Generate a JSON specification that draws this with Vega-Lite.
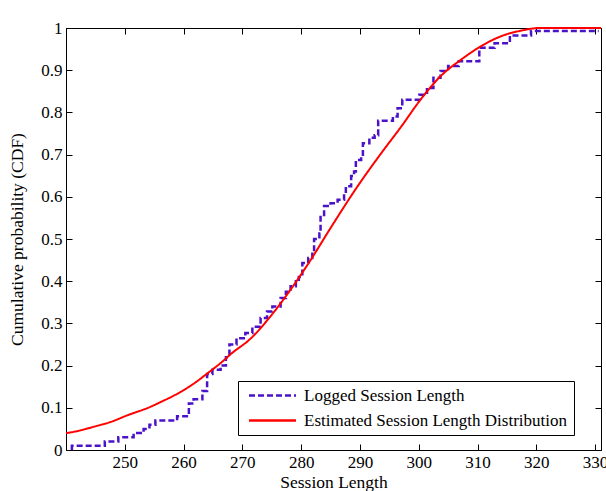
{
  "$schema": "https://vega.github.io/schema/vega-lite/v6.json",
  "width": 535,
  "height": 422,
  "autosize": "none",
  "padding": {"left": 66, "top": 28, "right": 5, "bottom": 41},
  "background": "white",
  "config": {
    "view": {"stroke": "black", "strokeWidth": 1},
    "axis": {
      "domainColor": "black",
      "tickColor": "black",
      "labelColor": "black",
      "titleColor": "black",
      "labelFont": "Liberation Serif",
      "titleFont": "Liberation Serif",
      "labelFontSize": 17,
      "titleFontSize": 17.5,
      "titleFontWeight": "normal",
      "grid": false,
      "tickSize": -6,
      "tickWidth": 1,
      "domainWidth": 1
    },
    "legend": {
      "orient": "none",
      "legendX": 172,
      "legendY": 353,
      "strokeColor": "black",
      "fillColor": "white",
      "padding": 6,
      "labelFont": "Liberation Serif",
      "labelFontSize": 17,
      "labelColor": "black",
      "labelLimit": 400,
      "symbolType": "M-4,0H4",
      "symbolSize": 138,
      "symbolStrokeWidth": 2.5,
      "symbolFillColor": "transparent",
      "symbolOffset": 20,
      "labelOffset": 23,
      "rowPadding": 7,
      "cornerRadius": 0
    }
  },
  "datasets": {
    "logged": [
      {"length": 241.0, "cdf": 0.0, "series": "Logged Session Length"},
      {"length": 241.0, "cdf": 0.01, "series": "Logged Session Length"},
      {"length": 246.6, "cdf": 0.02, "series": "Logged Session Length"},
      {"length": 248.9, "cdf": 0.03, "series": "Logged Session Length"},
      {"length": 251.5, "cdf": 0.04, "series": "Logged Session Length"},
      {"length": 253.2, "cdf": 0.05, "series": "Logged Session Length"},
      {"length": 254.2, "cdf": 0.06, "series": "Logged Session Length"},
      {"length": 255.2, "cdf": 0.07, "series": "Logged Session Length"},
      {"length": 258.9, "cdf": 0.08, "series": "Logged Session Length"},
      {"length": 260.9, "cdf": 0.11, "series": "Logged Session Length"},
      {"length": 261.7, "cdf": 0.12, "series": "Logged Session Length"},
      {"length": 263.2, "cdf": 0.14, "series": "Logged Session Length"},
      {"length": 264.0, "cdf": 0.18, "series": "Logged Session Length"},
      {"length": 264.9, "cdf": 0.19, "series": "Logged Session Length"},
      {"length": 266.3, "cdf": 0.2, "series": "Logged Session Length"},
      {"length": 267.2, "cdf": 0.22, "series": "Logged Session Length"},
      {"length": 267.8, "cdf": 0.25, "series": "Logged Session Length"},
      {"length": 269.0, "cdf": 0.265, "series": "Logged Session Length"},
      {"length": 270.5, "cdf": 0.277, "series": "Logged Session Length"},
      {"length": 271.7, "cdf": 0.292, "series": "Logged Session Length"},
      {"length": 273.1, "cdf": 0.313, "series": "Logged Session Length"},
      {"length": 274.2, "cdf": 0.328, "series": "Logged Session Length"},
      {"length": 275.1, "cdf": 0.34, "series": "Logged Session Length"},
      {"length": 276.5, "cdf": 0.36, "series": "Logged Session Length"},
      {"length": 277.4, "cdf": 0.375, "series": "Logged Session Length"},
      {"length": 278.2, "cdf": 0.388, "series": "Logged Session Length"},
      {"length": 279.1, "cdf": 0.4, "series": "Logged Session Length"},
      {"length": 279.6, "cdf": 0.41, "series": "Logged Session Length"},
      {"length": 280.2, "cdf": 0.443, "series": "Logged Session Length"},
      {"length": 281.2, "cdf": 0.455, "series": "Logged Session Length"},
      {"length": 281.9, "cdf": 0.47, "series": "Logged Session Length"},
      {"length": 282.2, "cdf": 0.5, "series": "Logged Session Length"},
      {"length": 283.1, "cdf": 0.513, "series": "Logged Session Length"},
      {"length": 283.3, "cdf": 0.557, "series": "Logged Session Length"},
      {"length": 283.9, "cdf": 0.578, "series": "Logged Session Length"},
      {"length": 285.0, "cdf": 0.585, "series": "Logged Session Length"},
      {"length": 286.2, "cdf": 0.593, "series": "Logged Session Length"},
      {"length": 287.3, "cdf": 0.608, "series": "Logged Session Length"},
      {"length": 287.6, "cdf": 0.625, "series": "Logged Session Length"},
      {"length": 288.5, "cdf": 0.649, "series": "Logged Session Length"},
      {"length": 289.0, "cdf": 0.66, "series": "Logged Session Length"},
      {"length": 289.3, "cdf": 0.687, "series": "Logged Session Length"},
      {"length": 290.2, "cdf": 0.695, "series": "Logged Session Length"},
      {"length": 290.5, "cdf": 0.727, "series": "Logged Session Length"},
      {"length": 291.6, "cdf": 0.74, "series": "Logged Session Length"},
      {"length": 292.5, "cdf": 0.746, "series": "Logged Session Length"},
      {"length": 293.1, "cdf": 0.78, "series": "Logged Session Length"},
      {"length": 295.6, "cdf": 0.79, "series": "Logged Session Length"},
      {"length": 296.4, "cdf": 0.81, "series": "Logged Session Length"},
      {"length": 297.2, "cdf": 0.83, "series": "Logged Session Length"},
      {"length": 300.1, "cdf": 0.842, "series": "Logged Session Length"},
      {"length": 301.4, "cdf": 0.858, "series": "Logged Session Length"},
      {"length": 302.5, "cdf": 0.882, "series": "Logged Session Length"},
      {"length": 303.7, "cdf": 0.898, "series": "Logged Session Length"},
      {"length": 305.0, "cdf": 0.91, "series": "Logged Session Length"},
      {"length": 306.8, "cdf": 0.921, "series": "Logged Session Length"},
      {"length": 310.3, "cdf": 0.953, "series": "Logged Session Length"},
      {"length": 312.9, "cdf": 0.964, "series": "Logged Session Length"},
      {"length": 315.5, "cdf": 0.982, "series": "Logged Session Length"},
      {"length": 319.1, "cdf": 0.993, "series": "Logged Session Length"},
      {"length": 330.6, "cdf": 0.993, "series": "Logged Session Length"}
    ],
    "estimated": [
      {"length": 240.0, "cdf": 0.04, "series": "Estimated Session Length Distribution"},
      {"length": 242.0, "cdf": 0.045, "series": "Estimated Session Length Distribution"},
      {"length": 244.7, "cdf": 0.055, "series": "Estimated Session Length Distribution"},
      {"length": 247.5, "cdf": 0.066, "series": "Estimated Session Length Distribution"},
      {"length": 250.4, "cdf": 0.082, "series": "Estimated Session Length Distribution"},
      {"length": 254.3, "cdf": 0.102, "series": "Estimated Session Length Distribution"},
      {"length": 256.0, "cdf": 0.113, "series": "Estimated Session Length Distribution"},
      {"length": 258.9, "cdf": 0.133, "series": "Estimated Session Length Distribution"},
      {"length": 261.7, "cdf": 0.157, "series": "Estimated Session Length Distribution"},
      {"length": 264.0, "cdf": 0.181, "series": "Estimated Session Length Distribution"},
      {"length": 266.8, "cdf": 0.212, "series": "Estimated Session Length Distribution"},
      {"length": 268.0, "cdf": 0.227, "series": "Estimated Session Length Distribution"},
      {"length": 271.4, "cdf": 0.264, "series": "Estimated Session Length Distribution"},
      {"length": 274.8, "cdf": 0.317, "series": "Estimated Session Length Distribution"},
      {"length": 278.2, "cdf": 0.38, "series": "Estimated Session Length Distribution"},
      {"length": 281.6, "cdf": 0.45, "series": "Estimated Session Length Distribution"},
      {"length": 285.0, "cdf": 0.526, "series": "Estimated Session Length Distribution"},
      {"length": 289.6, "cdf": 0.625, "series": "Estimated Session Length Distribution"},
      {"length": 293.6, "cdf": 0.703, "series": "Estimated Session Length Distribution"},
      {"length": 297.0, "cdf": 0.766, "series": "Estimated Session Length Distribution"},
      {"length": 300.4, "cdf": 0.832, "series": "Estimated Session Length Distribution"},
      {"length": 303.8, "cdf": 0.887, "series": "Estimated Session Length Distribution"},
      {"length": 307.2, "cdf": 0.925, "series": "Estimated Session Length Distribution"},
      {"length": 310.6, "cdf": 0.957, "series": "Estimated Session Length Distribution"},
      {"length": 314.1, "cdf": 0.981, "series": "Estimated Session Length Distribution"},
      {"length": 317.5, "cdf": 0.994, "series": "Estimated Session Length Distribution"},
      {"length": 320.5, "cdf": 1.0, "series": "Estimated Session Length Distribution"},
      {"length": 331.0, "cdf": 1.0, "series": "Estimated Session Length Distribution"}
    ]
  },
  "layer": [
    {
      "data": {"name": "logged"},
      "mark": {"type": "line", "interpolate": "step-after", "strokeWidth": 2.5},
      "encoding": {
        "x": {
          "field": "length", "type": "quantitative",
          "scale": {"domain": [240, 331], "nice": false, "zero": false},
          "axis": {"orient": "bottom", "values": [250, 260, 270, 280, 290, 300, 310, 320, 330], "title": "Session Length", "labelPadding": 10, "titlePadding": 3}
        },
        "y": {
          "field": "cdf", "type": "quantitative",
          "scale": {"domain": [0, 1], "nice": false},
          "axis": {"orient": "left", "values": [0, 0.1, 0.2, 0.3, 0.4, 0.5, 0.6, 0.7, 0.8, 0.9, 1], "format": "~g", "title": "Cumulative probability (CDF)", "labelPadding": 10, "titlePadding": 14}
        },
        "color": {
          "field": "series", "type": "nominal", "title": null,
          "scale": {"domain": ["Logged Session Length", "Estimated Session Length Distribution"], "range": ["#4a12c9", "#ff0000"]}
        },
        "strokeDash": {
          "field": "series", "type": "nominal", "title": null,
          "scale": {"domain": ["Logged Session Length", "Estimated Session Length Distribution"], "range": [[6, 3], [1, 0]]}
        }
      }
    },
    {
      "data": {"name": "estimated"},
      "mark": {"type": "line", "strokeWidth": 2, "interpolate": "monotone"},
      "encoding": {
        "x": {
          "field": "length", "type": "quantitative",
          "axis": {"orient": "top", "values": [250, 260, 270, 280, 290, 300, 310, 320, 330], "labels": false, "title": null}
        },
        "y": {
          "field": "cdf", "type": "quantitative",
          "axis": {"orient": "right", "values": [0, 0.1, 0.2, 0.3, 0.4, 0.5, 0.6, 0.7, 0.8, 0.9, 1], "labels": false, "title": null}
        },
        "color": {"field": "series", "type": "nominal", "title": null},
        "strokeDash": {"field": "series", "type": "nominal", "title": null}
      }
    }
  ],
  "resolve": {"axis": {"x": "independent", "y": "independent"}}
}
